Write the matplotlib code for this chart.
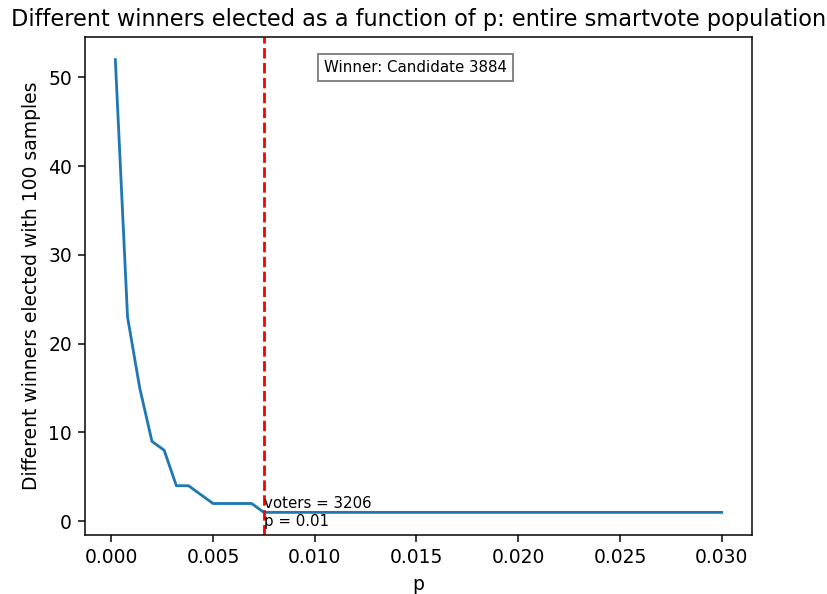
import matplotlib
matplotlib.use("Agg")
import matplotlib.pyplot as plt

p_values = [0.0002, 0.0008, 0.0014, 0.0020, 0.0026, 0.0032, 0.0038, 0.0044, 0.0050, 0.0056,
            0.0063, 0.0069, 0.0075, 0.0081, 0.0087, 0.0093, 0.0099, 0.0105, 0.0111, 0.0117,
            0.0123, 0.0129, 0.0136, 0.0142, 0.0148, 0.0154, 0.0160, 0.0166, 0.0172, 0.0178,
            0.0184, 0.0190, 0.0196, 0.0202, 0.0209, 0.0215, 0.0221, 0.0227, 0.0233, 0.0239,
            0.0245, 0.0251, 0.0257, 0.0263, 0.0269, 0.0275, 0.0282, 0.0288, 0.0294, 0.0300]
winners = [52, 23, 15, 9, 8, 4, 4, 3, 2, 2,
           2, 2, 1, 1, 1, 1, 1, 1, 1, 1,
           1, 1, 1, 1, 1, 1, 1, 1, 1, 1,
           1, 1, 1, 1, 1, 1, 1, 1, 1, 1,
           1, 1, 1, 1, 1, 1, 1, 1, 1, 1]
threshold_p = 0.0075
threshold_voters = 3206
winner_label = "Winner: Candidate 3884"

DPI = 135
fig = plt.figure(figsize=(827/DPI, 594/DPI), dpi=DPI)
ax = fig.add_axes([0.1028, 0.0993, 0.8065, 0.8384])
ax.plot(p_values, winners, color='#1f77b4')
ax.axvline(threshold_p, color='red', linestyle='--', linewidth=1.5)
ax.text(threshold_p, 1, f"voters = {threshold_voters}\np = {threshold_p:.2f}",
        va='center', ha='left', fontsize=8)
ax.text(0.4955, 0.939, winner_label, transform=ax.transAxes, ha='center', va='center',
        fontsize=8, bbox=dict(facecolor='white', edgecolor='gray', boxstyle='square,pad=0.4'))
ax.set_title("Different winners elected as a function of p: entire smartvote population")
ax.set_xlabel("p")
ax.set_ylabel("Different winners elected with 100 samples")
fig.savefig("out.png", dpi=DPI)
